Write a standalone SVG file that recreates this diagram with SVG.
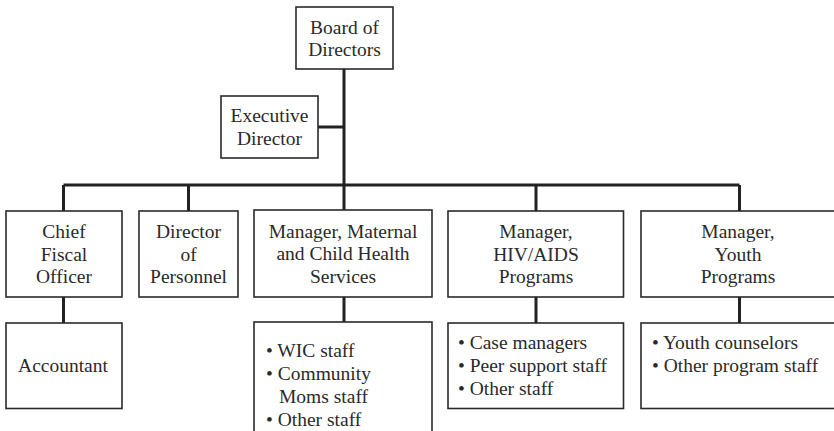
<svg xmlns="http://www.w3.org/2000/svg" width="834" height="431" viewBox="0 0 834 431">
<style>
.box{fill:#fff;stroke:#2a2a2a;stroke-width:1.6}
.t{font-family:"Liberation Serif","Times New Roman",serif;font-size:19.5px;fill:#2a2a2a}
.c{text-anchor:middle}
.con{stroke:#222;stroke-width:3;fill:none}
</style>
<rect width="834" height="431" fill="#fff"/>
<g id="connectors">
<path class="con" d="M344 69V210M318 127H344M63.5 185H739.5M63.5 185V211M188.5 185V211M536 185V211M739.5 185V211M63.5 297V323M344 297V322M536 297V323M739.5 297V323"/>
</g>
<g id="board">
<rect class="box" x="296" y="7" width="97" height="62"/>
<text class="t c" x="344.5" y="33.5">Board of</text>
<text class="t c" x="344.5" y="56">Directors</text>
</g>
<g id="exec">
<rect class="box" x="221" y="96" width="97" height="62"/>
<text class="t c" x="269.5" y="122">Executive</text>
<text class="t c" x="269.5" y="145">Director</text>
</g>
<g id="cfo">
<rect class="box" x="6" y="211" width="116" height="86"/>
<text class="t c" x="64" y="238">Chief</text>
<text class="t c" x="64" y="260.5">Fiscal</text>
<text class="t c" x="64" y="283">Officer</text>
</g>
<g id="personnel">
<rect class="box" x="139" y="211" width="99" height="86"/>
<text class="t c" x="188.5" y="238">Director</text>
<text class="t c" x="188.5" y="260.5">of</text>
<text class="t c" x="188.5" y="283">Personnel</text>
</g>
<g id="mch">
<rect class="box" x="254" y="210" width="178" height="87"/>
<text class="t c" x="343" y="237.5">Manager, Maternal</text>
<text class="t c" x="343" y="260">and Child Health</text>
<text class="t c" x="343" y="282.5">Services</text>
</g>
<g id="hiv">
<rect class="box" x="448" y="211" width="175.5" height="86"/>
<text class="t c" x="536" y="238">Manager,</text>
<text class="t c" x="536" y="260.5">HIV/AIDS</text>
<text class="t c" x="536" y="283">Programs</text>
</g>
<g id="youth">
<rect class="box" x="641" y="211" width="196" height="86"/>
<text class="t c" x="738" y="238">Manager,</text>
<text class="t c" x="738" y="260.5">Youth</text>
<text class="t c" x="738" y="283">Programs</text>
</g>
<g id="accountant">
<rect class="box" x="6" y="323" width="116" height="85.5"/>
<text class="t c" x="63" y="371.5">Accountant</text>
</g>
<g id="mch-staff">
<rect class="box" x="254" y="322" width="178" height="120"/>
<text class="t" x="266" y="356.5">• WIC staff</text>
<text class="t" x="266" y="379.5">• Community</text>
<text class="t" x="279" y="402.5">Moms staff</text>
<text class="t" x="266" y="425.5">• Other staff</text>
</g>
<g id="hiv-staff">
<rect class="box" x="448" y="323" width="175.5" height="85.5"/>
<text class="t" x="458" y="348.5">• Case managers</text>
<text class="t" x="458" y="371.5">• Peer support staff</text>
<text class="t" x="458" y="394.5">• Other staff</text>
</g>
<g id="youth-staff">
<rect class="box" x="641" y="323" width="196" height="85.5"/>
<text class="t" x="652" y="348.5">• Youth counselors</text>
<text class="t" x="652" y="371.5">• Other program staff</text>
</g>
</svg>
